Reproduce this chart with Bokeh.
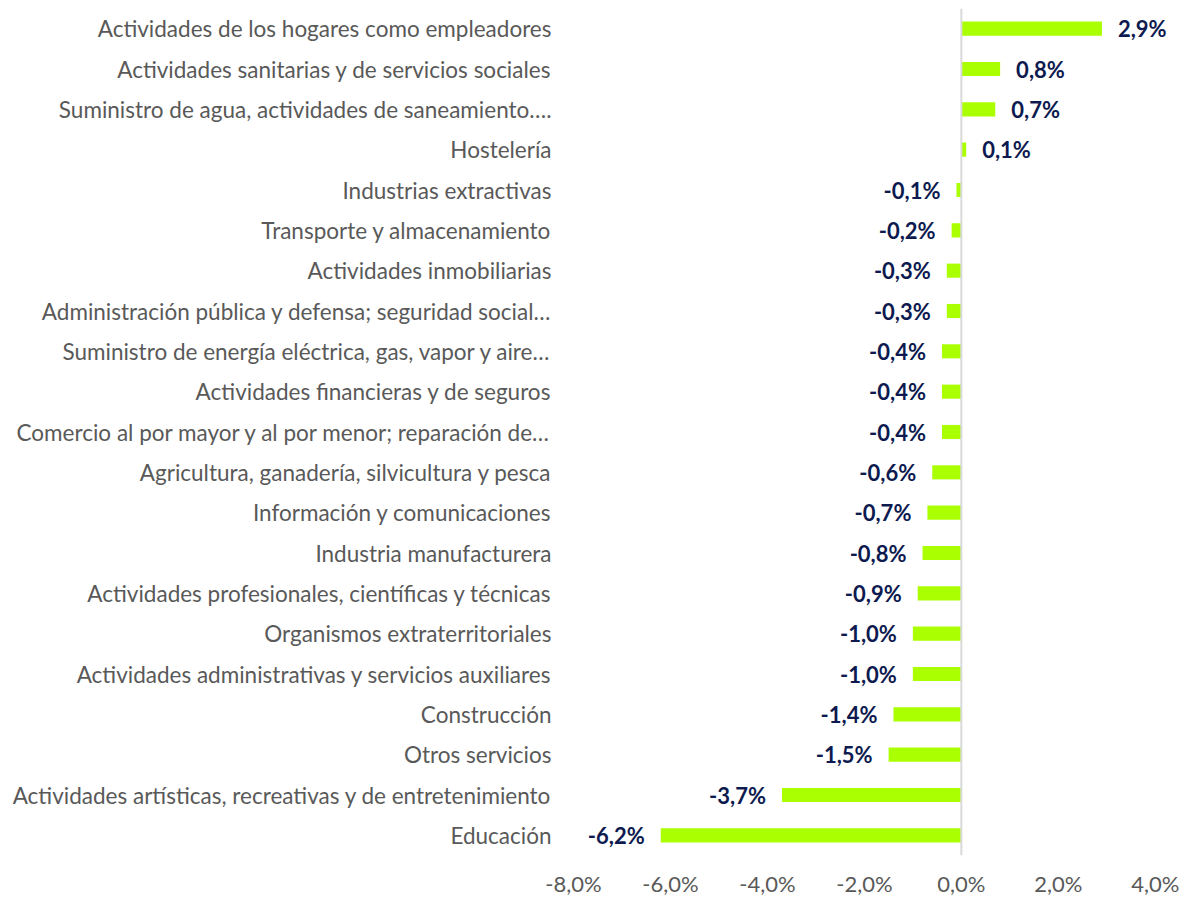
from bokeh.plotting import figure
from bokeh.models import ColumnDataSource, FactorRange, Range1d, Span, FixedTicker
from bokeh.core.properties import value
from bokeh.embed import file_html
from bokeh.resources import INLINE

categories = [
    "Actividades de los hogares como empleadores",
    "Actividades sanitarias y de servicios sociales",
    "Suministro de agua, actividades de saneamiento….",
    "Hostelería",
    "Industrias extractivas",
    "Transporte y almacenamiento",
    "Actividades inmobiliarias",
    "Administración pública y defensa; seguridad social…",
    "Suministro de energía eléctrica, gas, vapor y aire…",
    "Actividades financieras y de seguros",
    "Comercio al por mayor y al por menor; reparación de…",
    "Agricultura, ganadería, silvicultura y pesca",
    "Información y comunicaciones",
    "Industria manufacturera",
    "Actividades profesionales, científicas y técnicas",
    "Organismos extraterritoriales",
    "Actividades administrativas y servicios auxiliares",
    "Construcción",
    "Otros servicios",
    "Actividades artísticas, recreativas y de entretenimiento",
    "Educación",
]
values = [2.9, 0.8, 0.7, 0.1, -0.1, -0.2, -0.3, -0.3, -0.4, -0.4, -0.4,
          -0.6, -0.7, -0.8, -0.9, -1.0, -1.0, -1.4, -1.5, -3.7, -6.2]
x_ticks = [-8, -6, -4, -2, 0, 2, 4]
x_tick_labels = ["-8,0%", "-6,0%", "-4,0%", "-2,0%", "0,0%", "2,0%", "4,0%"]

FONT = "Lato"
BAR = "#AAFF00"
LABEL_COL = "#0D1A4F"
AXIS_COL = "#595959"

texts = [("%.1f" % v).replace(".", ",") + "%" for v in values]
aligns = ["left" if v >= 0 else "right" for v in values]
offsets = [16 if v >= 0 else -16 for v in values]

src = ColumnDataSource(dict(cat=categories, val=values, txt=texts,
                            align=aligns, off=offsets))

p = figure(width=1182, height=899, output_backend="svg", toolbar_location=None,
           y_range=FactorRange(factors=categories[::-1], range_padding=0),
           x_range=Range1d(-8, 4.5))
p.min_border_left = 573
p.min_border_right = 3
p.min_border_top = 8
p.min_border_bottom = 44
p.outline_line_color = None
p.background_fill_color = "white"
p.border_fill_color = "white"
p.grid.visible = False

p.hbar(y="cat", left=0, right="val", height=0.35, source=src,
       fill_color=BAR, line_color=None)

p.add_layout(Span(location=0, dimension="height", line_color="#D9D9D9", line_width=2))

p.text(x="val", y="cat", text="txt", source=src, text_align="align",
       x_offset="off", text_baseline="middle", text_font=value(FONT),
       text_font_style="bold", text_font_size="22px", text_color=LABEL_COL)

p.xaxis.ticker = FixedTicker(ticks=x_ticks)
p.xaxis.major_label_overrides = {t: l for t, l in zip(x_ticks, x_tick_labels)}
p.xaxis.axis_line_color = None
p.xaxis.major_tick_line_color = None
p.xaxis.minor_tick_line_color = None
p.xaxis.major_tick_out = 0
p.xaxis.minor_tick_out = 0
p.xaxis.major_label_text_font = FONT
p.xaxis.major_label_text_font_size = "22px"
p.xaxis.major_label_text_color = AXIS_COL
p.xaxis.major_label_standoff = 14

p.yaxis.axis_line_color = None
p.yaxis.major_tick_line_color = None
p.yaxis.minor_tick_line_color = None
p.yaxis.major_tick_out = 0
p.yaxis.minor_tick_out = 0
p.yaxis.major_label_text_font = FONT
p.yaxis.major_label_text_font_size = "22.5px"
p.yaxis.major_label_text_color = AXIS_COL
p.yaxis.major_label_standoff = 22

open("out.html", "w").write(file_html(p, INLINE))
